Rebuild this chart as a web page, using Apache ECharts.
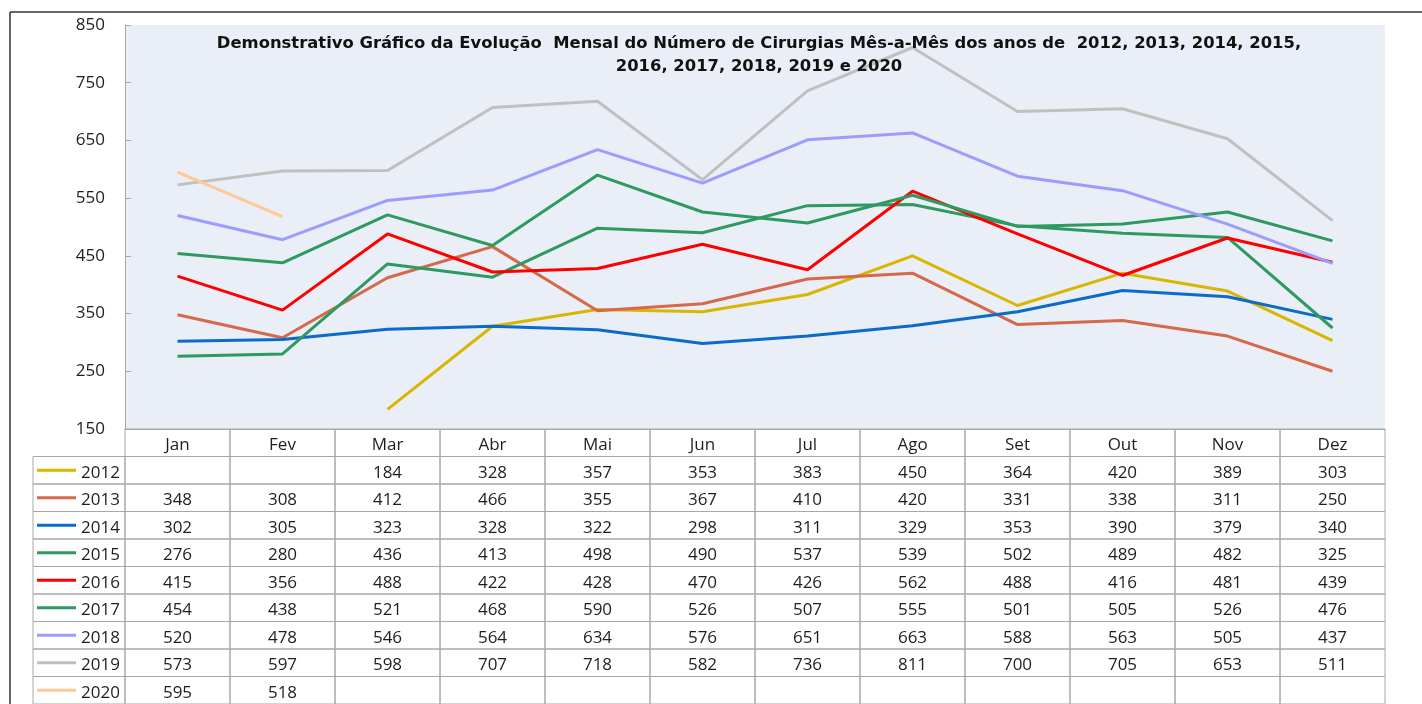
<!DOCTYPE html>
<html>
<head>
<meta charset="utf-8">
<script src="https://cdn.jsdelivr.net/npm/echarts@6/dist/echarts.min.js"></script>
<style>
html,body{margin:0;padding:0;background:#fff;}
#chart{width:1422px;height:704px;}
</style>
</head>
<body>
<div id="chart"></div>
<script>
// ---- data ----
var months = ['Jan','Fev','Mar','Abr','Mai','Jun','Jul','Ago','Set','Out','Nov','Dez'];
var years = ['2012','2013','2014','2015','2016','2017','2018','2019','2020'];
var yTicks = [150,250,350,450,550,650,750,850];
var v2012 = [null,null,184,328,357,353,383,450,364,420,389,303];
var v2013 = [348,308,412,466,355,367,410,420,331,338,311,250];
var v2014 = [302,305,323,328,322,298,311,329,353,390,379,340];
var v2015 = [276,280,436,413,498,490,537,539,502,489,482,325];
var v2016 = [415,356,488,422,428,470,426,562,488,416,481,439];
var v2017 = [454,438,521,468,590,526,507,555,501,505,526,476];
var v2018 = [520,478,546,564,634,576,651,663,588,563,505,437];
var v2019 = [573,597,598,707,718,582,736,811,700,705,653,511];
var v2020 = [595,518,null,null,null,null,null,null,null,null,null,null];
var titleText = 'Demonstrativo Gráfico da Evolução  Mensal do Número de Cirurgias Mês-a-Mês dos anos de  2012, 2013, 2014, 2015,\n2016, 2017, 2018, 2019 e 2020';

var seriesValues = [v2012,v2013,v2014,v2015,v2016,v2017,v2018,v2019,v2020];
var colors = ['#D9B600','#D5694A','#0A6BCB','#2E9A62','#FF0000','#2E9A62','#9C9CFF','#C0C0C0','#FFC894'];

var FONT = '"Open Sans", sans-serif';
var TXT = '#1e1e1e';
var BORDER = '#A8A8A8';

var tableRows = [''].concat(years);

var chart = echarts.init(document.getElementById('chart'));

var lineSeries = years.map(function (y, i) {
  return {
    name: y, type: 'line', xAxisIndex: 0, yAxisIndex: 0,
    data: seriesValues[i], showSymbol: false, symbol: 'none',
    connectNulls: false,
    lineStyle: { color: colors[i], width: 3 },
    itemStyle: { color: colors[i] },
    z: 3
  };
});

var tableSeries = {
  type: 'custom', xAxisIndex: 1, yAxisIndex: 1, clip: false, silent: true,
  data: tableRows.map(function (r, i) { return [0, i]; }),
  encode: { x: 0, y: 1 },
  renderItem: function (params, api) {
    var row = api.value(1);
    var size = api.size([1, 1]);
    var w = size[0], h = size[1];
    var children = [];
    for (var j = 0; j < months.length; j++) {
      var c = api.coord([j, row]);
      children.push({
        type: 'rect',
        shape: { x: c[0] - w / 2, y: c[1] - h / 2, width: w, height: h },
        style: { fill: null, stroke: BORDER, lineWidth: 1 }
      });
      if (row > 0) {
        var val = seriesValues[row - 1][j];
        if (val !== null && val !== undefined) {
          children.push({
            type: 'text',
            style: { x: c[0], y: c[1] + 2.5, text: String(val), fill: TXT, font: '17px ' + FONT, textAlign: 'center', textVerticalAlign: 'middle' }
          });
        }
      }
    }
    if (row > 0) {
      var c0 = api.coord([0, row]);
      var leftEdge = c0[0] - w / 2;
      var cellLeft = 33;
      children.push({
        type: 'rect',
        shape: { x: cellLeft, y: c0[1] - h / 2, width: leftEdge - cellLeft, height: h },
        style: { fill: null, stroke: BORDER, lineWidth: 1 }
      });
      children.push({
        type: 'line',
        shape: { x1: cellLeft + 4, y1: c0[1], x2: cellLeft + 43, y2: c0[1] },
        style: { stroke: colors[row - 1], lineWidth: 3 }
      });
      children.push({
        type: 'text',
        style: { x: leftEdge - 5, y: c0[1] + 2.5, text: years[row - 1], fill: TXT, font: '17px ' + FONT, textAlign: 'right', textVerticalAlign: 'middle' }
      });
    }
    return { type: 'group', children: children };
  },
  z: 2
};

var option = {
  animation: false,
  backgroundColor: '#ffffff',
  title: {
    text: titleText,
    left: 754, top: 27, textAlign: 'center',
    textStyle: { fontFamily: '"DejaVu Sans", sans-serif', fontSize: 16.4, fontWeight: 'bold', color: '#111', lineHeight: 23 }
  },
  graphic: [
    { type: 'line', shape: { x1: 10, y1: 12, x2: 1422, y2: 12 }, style: { stroke: '#333', lineWidth: 1.5 }, z: 10 },
    { type: 'line', shape: { x1: 10, y1: 12, x2: 10, y2: 704 }, style: { stroke: '#333', lineWidth: 1.5 }, z: 10 }
  ],
  grid: [
    { left: 125, right: 37, top: 25, bottom: 275, show: true, backgroundColor: '#E9EEF7', borderWidth: 0 },
    { left: 125, right: 37, top: 429, height: 280, show: false }
  ],
  xAxis: [
    {
      type: 'category', gridIndex: 0, data: months, boundaryGap: true,
      axisLine: { show: true, lineStyle: { color: BORDER, width: 1 } },
      axisTick: { show: false },
      axisLabel: { color: TXT, fontFamily: FONT, fontSize: 17, margin: 8 },
      splitLine: { show: false }
    },
    {
      type: 'category', gridIndex: 1, data: months, boundaryGap: true, show: false
    }
  ],
  yAxis: [
    {
      type: 'value', gridIndex: 0, min: yTicks[0], max: yTicks[yTicks.length - 1], interval: 100,
      axisLine: { show: true, lineStyle: { color: BORDER, width: 1 } },
      axisTick: { show: true, inside: true, length: 6, lineStyle: { color: BORDER } },
      axisLabel: { color: TXT, fontFamily: FONT, fontSize: 17, margin: 20 },
      splitLine: { show: false }
    },
    {
      type: 'category', gridIndex: 1, data: tableRows, inverse: true, boundaryGap: true, show: false
    }
  ],
  series: lineSeries.concat([tableSeries])
};
chart.setOption(option);
</script>
</body>
</html>
